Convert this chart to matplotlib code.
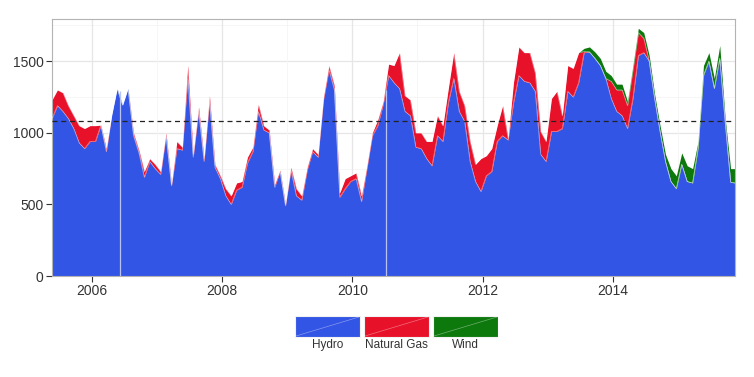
#!/usr/bin/env python3
"""Stacked generation by source (Hydro / Natural Gas / Wind), 2005-2015.

Writes out.png.
"""
import numpy as np
import matplotlib
matplotlib.use("Agg")
import matplotlib.pyplot as plt
from matplotlib.patches import Rectangle

plt.rcParams["font.family"] = ["Liberation Sans", "DejaVu Sans"]

# monthly readings (decimal year), last point is the end of the record
dates = np.append(2005.39 + np.arange(126) / 12, 2015.874)

hydro = [1100, 1190, 1150, 1100, 1030, 930, 890, 940, 940, 1054, 868, 1124, 1310, 1194, 1310, 980,
         860, 690, 800, 750, 710, 980, 630, 890, 880, 1380, 830, 1150, 800, 1220, 760, 680,
         560, 500, 600, 620, 790, 870, 1150, 1020, 1000, 620, 730, 490, 740, 560, 530,
         740, 870, 830, 1230, 1440, 1300, 550, 610, 660, 680, 520, 750, 980, 1050, 1200, 1400,
         1350, 1310, 1150, 1120, 900, 890, 820, 770, 980, 940, 1210, 1380, 1150, 1080, 800, 660,
         590, 700, 730, 940, 980, 950, 1210, 1400, 1360, 1350, 1290, 850, 800, 1010, 1010, 1030,
         1290, 1250, 1350, 1560, 1565, 1520, 1470, 1380, 1240, 1150, 1120, 1030, 1240, 1540, 1560, 1500,
         1240, 1010, 800, 660, 610, 780, 660, 650, 890, 1400, 1500, 1310, 1520, 1075, 655, 650]

gas = [130, 110, 130, 90, 90, 120, 140, 110, 110, 0, 23, 0, 0, 0, 0, 20,
       20, 40, 20, 30, 20, 20, 10, 50, 20, 90, 20, 30, 20, 40, 20, 20,
       50, 60, 50, 40, 40, 30, 50, 30, 20, 20, 10, 10, 20, 50, 30,
       20, 20, 20, 20, 30, 30, 30, 70, 40, 40, 40, 20, 20, 40, 20, 80,
       120, 250, 110, 110, 100, 110, 120, 170, 140, 110, 100, 180, 140, 110, 140, 120,
       230, 140, 160, 110, 210, 10, 140, 200, 200, 210, 130, 160, 140, 230, 280, 90,
       180, 200, 210, 10, 0, 0, 0, 0, 120, 150, 180, 160, 200, 160, 100, 0,
       0, 0, 0, 0, 0, 0, 0, 0, 0, 0, 0, 0, 0, 0, 0, 0]

wind = [0] * 98 + [20, 35, 45, 50, 50, 40, 40, 40, 30, 30, 30, 40, 40,
                   30, 40, 50, 90, 90, 80, 110, 100, 50, 70, 60, 70, 90, 25, 95, 100]

# weeks with no hydro record (show as thin gaps)
gap_dates = [2006.43, 2010.52]
gap_tops = [1290, 1300]

average = 1085

labels = ["Hydro", "Natural Gas", "Wind"]
colors = ["#3355e5", "#e8112a", "#0d790d"]


def main():
    h = np.array(hydro, float)
    g = h + np.array(gas, float)
    w = g + np.array(wind, float)

    fig = plt.figure(figsize=(7.54, 3.77), dpi=100)
    ax = fig.add_axes([52 / 754, 1 - 276 / 377, 683 / 754, 257 / 377])

    # grid (major + minor, theme_bw look)
    for y in [250, 750, 1250, 1750]:
        ax.axhline(y, color="#f5f5f5", lw=0.6, zorder=0)
    for y in [500, 1000, 1500]:
        ax.axhline(y, color="#e6e6e6", lw=0.9, zorder=0)
    for x in [2007, 2009, 2011, 2013, 2015]:
        ax.axvline(x, color="#f5f5f5", lw=0.6, zorder=0)
    for x in [2006, 2008, 2010, 2012, 2014]:
        ax.axvline(x, color="#e6e6e6", lw=0.9, zorder=0)

    ax.fill_between(dates, 0, h, color=colors[0], lw=0, zorder=2)
    ax.fill_between(dates, h, g, color=colors[1], lw=0, zorder=2)
    ax.fill_between(dates, g, w, color=colors[2], lw=0, zorder=2)
    for top in (h, g):
        ax.plot(dates, top, color="white", lw=0.5, alpha=0.45, zorder=3)
    ax.vlines(gap_dates, 0, gap_tops, color="#b9c2f5", lw=0.9, zorder=3)

    ax.axhline(average, color="#222222", lw=0.9, ls=(0, (4, 3)), zorder=4)

    ax.set_xlim(dates[0], dates[-1])
    ax.set_ylim(0, 1795)
    ax.set_xticks([2006, 2008, 2010, 2012, 2014])
    ax.set_yticks([0, 500, 1000, 1500])
    ax.tick_params(direction="out", length=4, width=0.8, color="#333333",
                   labelsize=10, labelcolor="#333333", pad=2)
    for s in ax.spines.values():
        s.set_color("#b3b3b3")
        s.set_linewidth(0.8)

    # legend below the panel: wide keys with labels underneath
    lg = fig.add_axes([294 / 754, 1 - 352 / 377, 204 / 754, 37 / 377])
    lg.set_xlim(0, 204); lg.set_ylim(37, 0); lg.axis("off")
    for i, (lab, c) in enumerate(zip(labels, colors)):
        x0 = 1 + i * 69
        lg.add_patch(Rectangle((x0, 1), 65, 21, fc=c, ec="#f2f2f2", lw=0.8))
        lg.plot([x0 + 1, x0 + 64], [21, 2], color="white", lw=0.5, alpha=0.4)
        lg.text(x0 + 32.5, 30, lab, ha="center", va="center", fontsize=8.5,
                color="#333333")

    fig.savefig("out.png", dpi=100)


if __name__ == "__main__":
    main()
